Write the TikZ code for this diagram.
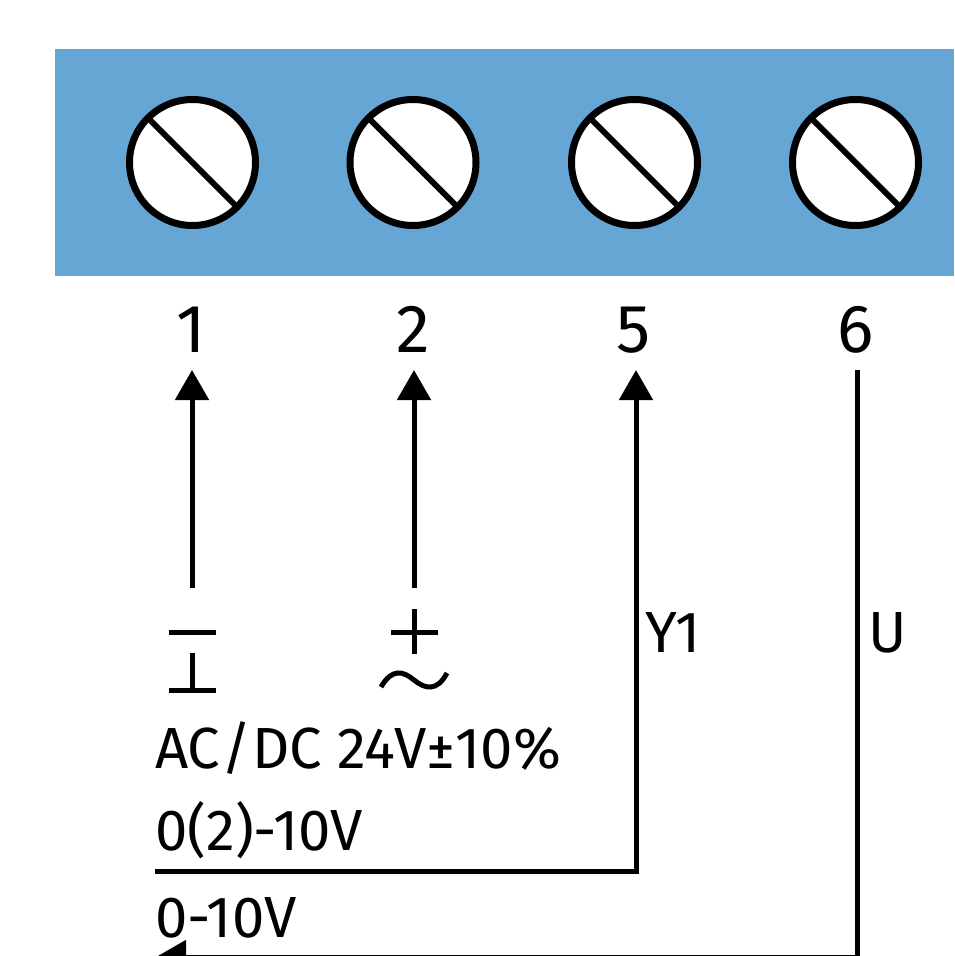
\documentclass[tikz,border=0pt]{standalone}
\usepackage{fontspec}
\setmainfont{Fira Sans}
\usetikzlibrary{arrows.meta}
\definecolor{barblue}{HTML}{66A6D4}
\tikzset{
  wire/.style={line width=5pt,black},
  arrowwire/.style={wire,-{Triangle[length=30pt,width=33pt]}},
  screwhead/.style={circle,draw=black,fill=white,line width=7pt,minimum size=126pt,inner sep=0pt,outer sep=0pt},
  slot/.style={line width=6pt,black},
  termnum/.style={font=\fontsize{68}{68}\selectfont,inner sep=0pt,anchor=base},
  lbl/.style={font=\fontsize{58}{58}\selectfont,inner sep=0pt,anchor=base west},
  sym/.style={line width=5pt,black},
}
\begin{document}
\begin{tikzpicture}[x=1pt,y=-1pt]
\useasboundingbox (0,0) rectangle (954,956);
\fill[white] (0,0) rectangle (954,956);
\fill[barblue] (55,49) rectangle (954,276);
\foreach \n/\cx in {a/192.5,b/413,c/634.5,d/855.5}{
  \node[screwhead] (screw\n) at (\cx,162.5) {};
  \draw[slot] (screw\n.135) -- (screw\n.-45);
}
\node[termnum] (t1) at (191,352) {1};
\node[termnum] (t2) at (413.5,352) {2};
\node[termnum] (t5) at (634,352) {5};
\node[termnum] (t6) at (856,352) {6};
\coordinate (a1) at (192,370);
\coordinate (a2) at (414,370);
\coordinate (a5) at (636,370);
\coordinate (a6) at (857,370);
\coordinate (s1) at (192,588);
\coordinate (s2) at (414,588);
\coordinate (y0) at (155,871);
\coordinate (u0) at (156,957);
\draw[arrowwire] (s1) -- (a1);
\draw[arrowwire] (s2) -- (a2);
\draw[arrowwire] (y0) -| (a5);
\draw[arrowwire] (a6) |- (u0);
\node[lbl] (y1) at (645,652) {Y1};
\node[lbl] (u) at (868,652) {U};
\node[lbl] (ac) at (155,768) {AC\kern1pt/\kern1pt DC 24V±10\%};
\node[lbl] (r1) at (155,850) {0(2)-10V};
\node[lbl] (r2) at (155,937) {0-10V};
% symbols
\draw[sym] (169,632) -- (216,632);
\draw[sym] (169,690) -- (216,690);
\draw[sym] (192.5,653) -- (192.5,690);
\draw[sym] (391,632) -- (438,632);
\draw[sym] (414.5,609) -- (414.5,654);
\draw[sym] (381,687) .. controls (392,668) and (403,671) .. (414,680) .. controls (425,689) and (437,692) .. (447,673);
\end{tikzpicture}
\end{document}
